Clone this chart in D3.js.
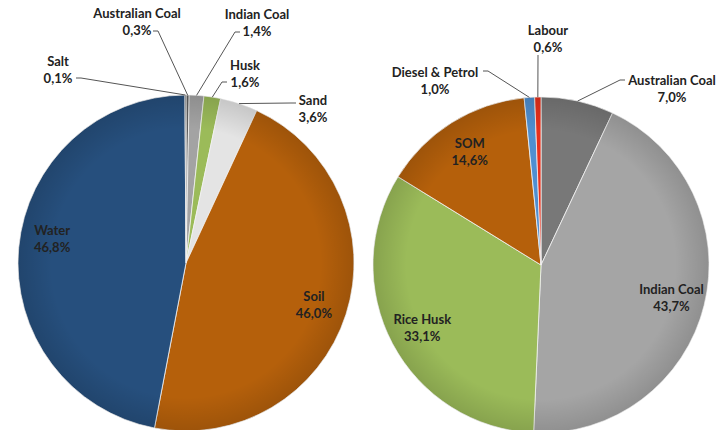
<!DOCTYPE html>
<html>
<head>
<meta charset="utf-8">
<script src="https://cdn.jsdelivr.net/npm/d3@7"></script>
<style>
  body { margin: 0; background: #fff; }
  text { font-family: Lato, "Liberation Sans", sans-serif; font-weight: bold; font-size: 13px; fill: #222; }
</style>
</head>
<body>
<div id="chart"></div>
<script>
// left pie: materials
const leftNames = ["Australian Coal", "Indian Coal", "Husk", "Sand", "Soil", "Water", "Salt"];
const leftValues = [0.3, 1.4, 1.6, 3.6, 46.0, 46.8, 0.1];
// right pie: costs
const rightNames = ["Australian Coal", "Indian Coal", "Rice Husk", "SOM", "Diesel & Petrol", "Labour"];
const rightValues = [7.0, 43.7, 33.1, 14.6, 1.0, 0.6];

const leftColors = ["#5e5e5e", "#a3a3a3", "#9bbb59", "#e4e4e4", "#b5600b", "#264f7d", "#333333"];
const rightColors = ["#787878", "#a5a5a5", "#9bbb59", "#b5600b", "#4f8fd0", "#e8301c"];

// outside label placement: label centre relative to pie centre, leader start relative to label, direction of the short tail
const leftOutside = {
  "Australian Coal": { x: -49, y: -242, ax: 16, ay: 10, dir: 1 },
  "Indian Coal": { x: 71, y: -241, ax: -17, ay: 10, dir: -1 },
  "Husk": { x: 59, y: -190, ax: -18, ay: 9, dir: -1 },
  "Sand": { x: 127, y: -155, ax: -17, ay: -5, dir: -1 },
  "Salt": { x: -128, y: -194, ax: 18, ay: 9, dir: 1 }
};
const rightOutside = {
  "Australian Coal": { x: 131, y: -177, ax: -47, ay: -8, dir: -1 },
  "Diesel & Petrol": { x: -106, y: -185, ax: 48, ay: -9, dir: 1 },
  "Labour": { x: 7, y: -227, ax: -10, ay: 17, dir: 0 }
};
const insideNudge = { "Water": -12 };

const width = 722, height = 430, radius = 168;
const svg = d3.select("#chart").append("svg")
  .attr("width", width)
  .attr("height", height);

const defs = svg.append("defs");
const grad = defs.append("radialGradient").attr("id", "shade");
grad.append("stop").attr("offset", "80%").attr("stop-color", "#000").attr("stop-opacity", 0);
grad.append("stop").attr("offset", "100%").attr("stop-color", "#000").attr("stop-opacity", 0.13);

const fmt = v => d3.format(".1f")(v).replace(".", ",") + "%";

function drawPie(cx, cy, names, values, colors, outside) {
  const g = svg.append("g").attr("transform", `translate(${cx},${cy})`);
  const pie = d3.pie().sort(null).value(d => d);
  const arcs = pie(values);
  const arc = d3.arc().innerRadius(0).outerRadius(radius);
  const edge = d3.arc().innerRadius(radius).outerRadius(radius);
  const inner = d3.arc().innerRadius(radius * 0.8).outerRadius(radius * 0.8);

  g.selectAll("path.slice")
    .data(arcs)
    .join("path")
    .attr("class", "slice")
    .attr("d", arc)
    .attr("fill", (d, i) => colors[i])
    .attr("stroke", "#f2f2f2")
    .attr("stroke-width", 0.8);

  g.append("circle").attr("r", radius).attr("fill", "url(#shade)");

  arcs.forEach((d, i) => {
    const name = names[i];
    const o = outside[name];
    let x, y;
    if (o) {
      x = o.x; y = o.y;
      const p = edge.centroid(d);
      const sx = x + o.ax, sy = y + o.ay;
      g.append("path")
        .attr("d", `M${sx},${sy}h${o.dir * 5}L${p[0]},${p[1]}`)
        .attr("fill", "none")
        .attr("stroke", "#555")
        .attr("stroke-width", 1);
    } else {
      [x, y] = inner.centroid(d);
      y += insideNudge[name] || 0;
    }
    const t = g.append("text").attr("text-anchor", "middle");
    t.append("tspan").attr("x", x).attr("y", y - 8.5).attr("dominant-baseline", "central").text(name);
    t.append("tspan").attr("x", x).attr("y", y + 8.5).attr("dominant-baseline", "central").text(fmt(values[i]));
  });
}

drawPie(186, 263, leftNames, leftValues, leftColors, leftOutside);
drawPie(541, 265, rightNames, rightValues, rightColors, rightOutside);
</script>
</body>
</html>
